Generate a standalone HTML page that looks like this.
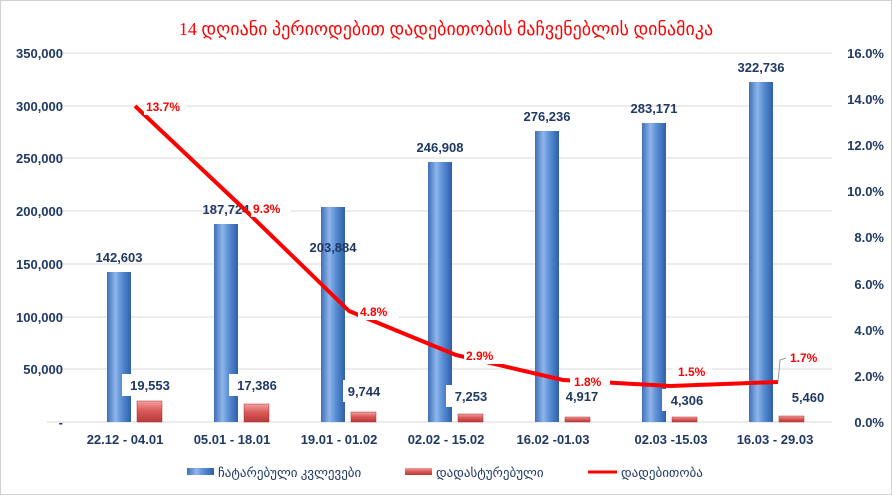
<!DOCTYPE html>
<html><head><meta charset="utf-8"><style>
html,body{margin:0;padding:0;background:#fff}
svg{display:block;font-family:"Liberation Sans","DejaVu Sans",sans-serif}
</style></head><body>
<svg width="892" height="495" viewBox="0 0 892 495">
<defs>
<linearGradient id="gb" x1="0" x2="1" y1="0" y2="0">
<stop offset="0" stop-color="#3d6fb8"/><stop offset="0.35" stop-color="#8fb6ea"/><stop offset="0.6" stop-color="#5b8fd6"/><stop offset="1" stop-color="#2f5fa8"/></linearGradient>
<linearGradient id="gr" x1="0" x2="0" y1="0" y2="1">
<stop offset="0" stop-color="#f4a0a0"/><stop offset="0.5" stop-color="#d85656"/><stop offset="1" stop-color="#b83a3a"/></linearGradient>
</defs>
<rect x="0.5" y="0.5" width="891" height="494" fill="#fff" stroke="#d0d0d0"/>
<text x="446" y="35" text-anchor="middle" font-size="18" fill="#ff0000" font-family="'Liberation Serif','DejaVu Sans',serif">14 დღიანი პერიოდებით დადებითობის მაჩვენებლის დინამიკა</text>
<g stroke="#d9d9d9" stroke-width="1">
<line x1="47" x2="832" y1="53" y2="53"/><line x1="47" x2="832" y1="106" y2="106"/><line x1="47" x2="832" y1="158" y2="158"/><line x1="47" x2="832" y1="211" y2="211"/><line x1="47" x2="832" y1="264" y2="264"/><line x1="47" x2="832" y1="317" y2="317"/><line x1="47" x2="832" y1="369" y2="369"/><line x1="47" x2="832" y1="422" y2="422"/>
</g>
<g font-size="13" font-weight="bold" fill="#1f3864" text-anchor="end">
<text x="63" y="58">350,000</text><text x="63" y="111">300,000</text><text x="63" y="163">250,000</text><text x="63" y="216">200,000</text><text x="63" y="269">150,000</text><text x="63" y="322">100,000</text><text x="63" y="374">50,000</text><text x="63" y="427">-</text>
</g>
<g font-size="13" font-weight="bold" fill="#1f3864" text-anchor="end">
<text x="884" y="58">16.0%</text><text x="884" y="104">14.0%</text><text x="884" y="150">12.0%</text><text x="884" y="196">10.0%</text><text x="884" y="242">8.0%</text><text x="884" y="289">6.0%</text><text x="884" y="335">4.0%</text><text x="884" y="381">2.0%</text><text x="884" y="427">0.0%</text>
</g>
<g fill="url(#gb)">
<rect x="107" y="272" width="24" height="150"/>
<rect x="214" y="224" width="24" height="198"/>
<rect x="321" y="207" width="24" height="215"/>
<rect x="428" y="162" width="24" height="260"/>
<rect x="535" y="131" width="24" height="291"/>
<rect x="642" y="123" width="24" height="299"/>
<rect x="749" y="82" width="24" height="340"/>
</g>
<g fill="url(#gr)" stroke="#a33" stroke-width="0.5">
<rect x="137" y="401" width="25" height="21"/>
<rect x="244" y="404" width="25" height="18"/>
<rect x="351" y="412" width="25" height="10"/>
<rect x="458" y="414" width="25" height="8"/>
<rect x="565" y="417" width="25" height="5"/>
<rect x="672" y="417" width="25" height="5"/>
<rect x="779" y="416" width="25" height="6"/>
</g>
<g font-size="13" font-weight="bold" fill="#1f3864" text-anchor="middle">
<text x="119" y="262">142,603</text><text x="226" y="214">187,724</text><text x="333" y="252" >203,884</text><text x="440" y="152">246,908</text><text x="547" y="121">276,236</text><text x="654" y="113">283,171</text><text x="761" y="72">322,736</text>
</g>
<g fill="#fff">
<rect x="122" y="374" width="56" height="22"/><rect x="229" y="374" width="56" height="22"/><rect x="343" y="380" width="42" height="22"/><rect x="446" y="385" width="50" height="22"/><rect x="560" y="385" width="44" height="22"/><rect x="662" y="389" width="50" height="22"/><rect x="783" y="386" width="50" height="22"/>
</g>
<g font-size="13" font-weight="bold" fill="#1f3864" text-anchor="middle">
<text x="150" y="390">19,553</text><text x="257" y="390">17,386</text><text x="364" y="396">9,744</text><text x="471" y="401">7,253</text><text x="582" y="401">4,917</text><text x="687" y="405">4,306</text><text x="808" y="402">5,460</text>
</g>
<polyline points="135,106 242,207 349,311 456,355 563,380 670,386 778,382" fill="none" stroke="#ff0000" stroke-width="4" stroke-linejoin="round"/>
<polyline points="778,382 780,360 786,358" fill="none" stroke="#999" stroke-width="1"/>
<g fill="#fff">
<rect x="144" y="97" width="42" height="18"/><rect x="251" y="199" width="40" height="18"/><rect x="358" y="302" width="40" height="18"/><rect x="464" y="346" width="40" height="18"/><rect x="570" y="372" width="40" height="18"/><rect x="672" y="362" width="40" height="18"/><rect x="786" y="349" width="40" height="18"/>
</g>
<g font-size="12" font-weight="bold" fill="#ff0000">
<text x="146" y="111">13.7%</text><text x="253" y="213">9.3%</text><text x="360" y="316">4.8%</text><text x="466" y="360">2.9%</text><text x="574" y="386">1.8%</text><text x="678" y="376">1.5%</text><text x="790" y="362">1.7%</text>
</g>
<g font-size="13" font-weight="bold" fill="#1f3864" text-anchor="middle">
<text x="125" y="444">22.12 - 04.01</text><text x="232" y="444">05.01 - 18.01</text><text x="339" y="444">19.01 - 01.02</text><text x="446" y="444">02.02 - 15.02</text><text x="553" y="444">16.02 -01.03</text><text x="671" y="444">02.03 -15.03</text><text x="775" y="444">16.03 - 29.03</text>
</g>
<rect x="187" y="468" width="27" height="7" fill="url(#gb)"/>
<text x="218" y="477" font-size="13" fill="#1f3864" font-family="'Liberation Serif','DejaVu Sans',serif">ჩატარებული კვლევები</text>
<rect x="405" y="468" width="27" height="7" fill="url(#gr)"/>
<text x="436" y="477" font-size="13" fill="#1f3864" font-family="'Liberation Serif','DejaVu Sans',serif">დადასტურებული</text>
<line x1="588" x2="617" y1="472" y2="472" stroke="#ff0000" stroke-width="3"/>
<text x="621" y="477" font-size="13" fill="#1f3864" font-family="'Liberation Serif','DejaVu Sans',serif">დადებითობა</text>
</svg>
</body></html>
